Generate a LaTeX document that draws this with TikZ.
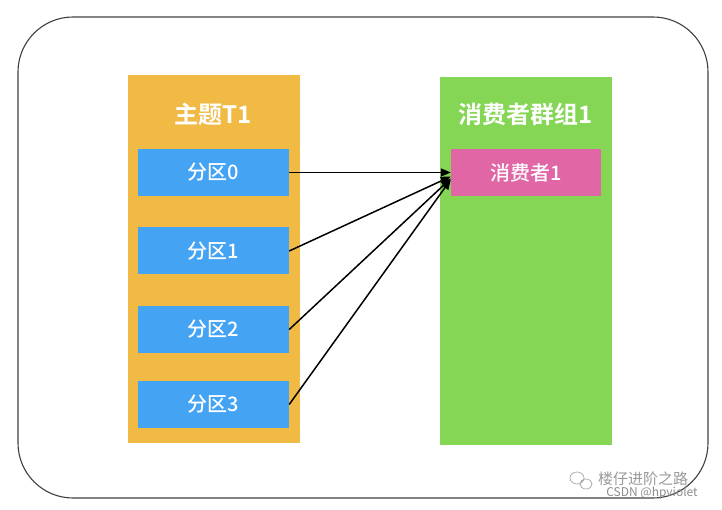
\documentclass[tikz,border=0pt]{standalone}
\usepackage{fontspec}
\setmainfont{Noto Sans CJK SC}
\newfontfamily\cjkbold{Noto Sans CJK SC Bold}
\newfontfamily\cjkmed{Noto Sans CJK SC Medium}
\usetikzlibrary{arrows.meta,calc}
\definecolor{topicc}{HTML}{F0BA45}
\definecolor{groupc}{HTML}{84D654}
\definecolor{partc}{HTML}{45A3F3}
\definecolor{consc}{HTML}{E066A6}
\begin{document}
\begin{tikzpicture}[x=1pt,y=-1pt,
    panel/.style={inner sep=0pt,minimum width=172pt,minimum height=368pt},
    part/.style={fill=partc,text=white,inner sep=0pt,minimum width=151pt,minimum height=47pt,font=\cjkmed\fontsize{20}{20}\selectfont},
    title/.style={text=white,font=\cjkbold\fontsize{24}{24}\selectfont},
    link/.style={line width=1.5pt,-{Triangle[length=10pt,width=8pt]}}]
\useasboundingbox (0,0) rectangle (722,510);
\draw[line width=1.1pt,draw=black!75,rounded corners=55pt] (18,17) rectangle (708,498);
\node[panel,fill=topicc] (topic) at (213.5,259) {};
\node[panel,fill=groupc] (group) at (526,261) {};
\node[title] (ttl) at (213.5,114) {主题T1};
\node[title] (gtl) at (526,114) {消费者群组1};
\node[part] (p0) at (213.5,172.5) {分区0};
\node[part] (p1) at (213.5,251) {分区1};
\node[part] (p2) at (213.5,329.5) {分区2};
\node[part] (p3) at (213.5,404.5) {分区3};
\node[part,fill=consc,minimum width=150pt] (c1) at (526,172.5) {消费者1};
\draw[link] (p0.east) -- (c1.west);
\draw[link] (p1.east) -- ($(c1.west)+(0,4)$);
\draw[link] (p2.east) -- ($(c1.west)+(0,6)$);
\draw[link] (p3.east) -- ($(c1.west)+(0,7)$);
% watermark
\draw[black!35,line width=0.7pt] (577,478) ellipse (7pt and 6pt) (586,484) ellipse (6pt and 5pt);
\node[text=black!40,font=\fontsize{15}{15}\selectfont] (wm) at (643,479) {楼仔进阶之路};
\node[text=black!45,font=\fontsize{12}{12}\selectfont] (csdn) at (652,493) {CSDN @hpviolet};
\end{tikzpicture}
\end{document}
